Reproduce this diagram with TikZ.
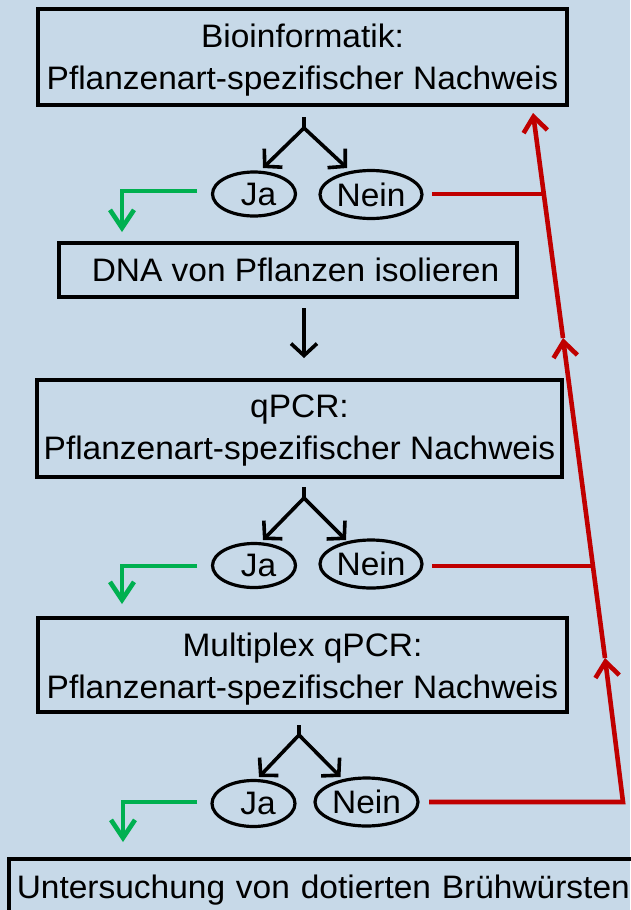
\documentclass[tikz,border=0pt]{standalone}
\usepackage{fontspec}
\setmainfont[FakeStretch=1.03]{Liberation Sans}
\usetikzlibrary{arrows.meta,shapes.geometric}
\definecolor{bgblue}{RGB}{199,217,232}
\definecolor{nored}{RGB}{192,0,0}
\definecolor{yesgreen}{RGB}{0,176,80}

\begin{document}
\begin{tikzpicture}[x=1pt,y=-1pt,
  every node/.style={font=\fontsize{32.5}{42}\selectfont, inner sep=0pt},
  box/.style={draw=black, line width=3.6pt, rectangle, align=center},
  answer/.style={draw=black, line width=3.2pt, ellipse},
  stemline/.style={draw=black, line width=3.6pt},
  flow/.style={draw=black, line width=3.6pt, line join=round,
    -{Straight Barb[length=12pt,width=26pt]}},
  yes/.style={draw=yesgreen, line width=4.6pt,
    -{Straight Barb[length=18pt,width=24pt]}},
  no/.style={draw=nored, line width=4.6pt},
  noarrow/.style={no, -{Straight Barb[length=15pt,width=24pt]}}
]
\fill[bgblue] (0,0) rectangle (630,910);
\useasboundingbox (0,0) rectangle (630,910);

% process boxes
\node[box, minimum width=529, minimum height=96] (bio) at (302.5,57)
  {\rule{0pt}{29pt}Bioinformatik:\\Pflanzenart-spezifischer Nachweis};
\node[box, minimum width=458, minimum height=54] (dna) at (288,270)
  {\hspace*{15pt}DNA von Pflanzen isolieren};
\node[box, minimum width=525, minimum height=97] (qpcr) at (299.5,428.5)
  {\rule{0pt}{26pt}qPCR:\\Pflanzenart-spezifischer Nachweis};
\node[box, minimum width=529, minimum height=94] (multi) at (302.5,665)
  {\rule{0pt}{32pt}Multiplex qPCR:\\Pflanzenart-spezifischer Nachweis};
\node[box, anchor=north west, text width=620pt, align=left, inner xsep=8pt,
  minimum height=62] (wurst) at (7,857)
  {Untersuchung von dotierten Brühwürsten};

% yes / no answers
\node[answer, minimum width=83, minimum height=44] (ja1) at (254,194) {\hspace*{9pt}Ja};
\node[answer, minimum width=102, minimum height=48] (nein1) at (371,194.5) {Nein};
\node[answer, minimum width=83, minimum height=44] (ja2) at (254,565.5) {\hspace*{9pt}Ja};
\node[answer, minimum width=102, minimum height=48] (nein2) at (371,564) {Nein};
\node[answer, minimum width=83, minimum height=46] (ja3) at (253.5,803.5) {\hspace*{9pt}Ja};
\node[answer, minimum width=103, minimum height=48] (nein3) at (366.5,802) {Nein};

% branch points under each test
\coordinate (s1) at (304,117);   \coordinate (k1) at (304,128);
\coordinate (ta1) at (263,168);  \coordinate (tn1) at (347,168);
\coordinate (s2) at (304,487);   \coordinate (k2) at (304,498);
\coordinate (ta2) at (263,540);  \coordinate (tn2) at (346,540);
\coordinate (s3) at (299,725);   \coordinate (k3) at (299,735);
\coordinate (ta3) at (259,777);  \coordinate (tn3) at (340.5,777);

\draw[stemline] (s1) -- (k1);
\draw[flow] (k1) -- (ta1);
\draw[flow] (k1) -- (tn1);
\draw[stemline] (s2) -- (k2);
\draw[flow] (k2) -- (ta2);
\draw[flow] (k2) -- (tn2);
\draw[stemline] (s3) -- (k3);
\draw[flow] (k3) -- (ta3);
\draw[flow] (k3) -- (tn3);

% DNA isolation leads to qPCR
\coordinate (d1) at (304,308);  \coordinate (d2) at (304,358);
\draw[flow] (d1) -- (d2);

% green "yes" paths
\coordinate (g1) at (197,191);  \coordinate (gc1) at (122,191);  \coordinate (gt1) at (122,232);
\coordinate (g2) at (197,566);  \coordinate (gc2) at (122,566);  \coordinate (gt2) at (122,604);
\coordinate (g3) at (197,802);  \coordinate (gc3) at (123,802);  \coordinate (gt3) at (123,842);
\draw[yes] (g1) -- (gc1) -- (gt1);
\draw[yes] (g2) -- (gc2) -- (gt2);
\draw[yes] (g3) -- (gc3) -- (gt3);

% red "no" feedback line back to the top
\coordinate (rtop) at (533,113);
\coordinate (rm1) at (563,338);
\coordinate (rm2) at (605,658);
\coordinate (rc) at (623,802);
\coordinate (j1) at (543.6,194);
\coordinate (j2) at (592.2,566);
\coordinate (r1) at (432,194);
\coordinate (r2) at (432,566);
\coordinate (r3) at (429,802);

\draw[no] (r1) -- (j1);
\draw[no] (r2) -- (j2);
\draw[noarrow, line join=miter] (r3) -- (rc) -- (rm2);
\draw[noarrow] (rm2) -- (rm1);
\draw[noarrow] (rm1) -- (rtop);
\end{tikzpicture}
\end{document}
